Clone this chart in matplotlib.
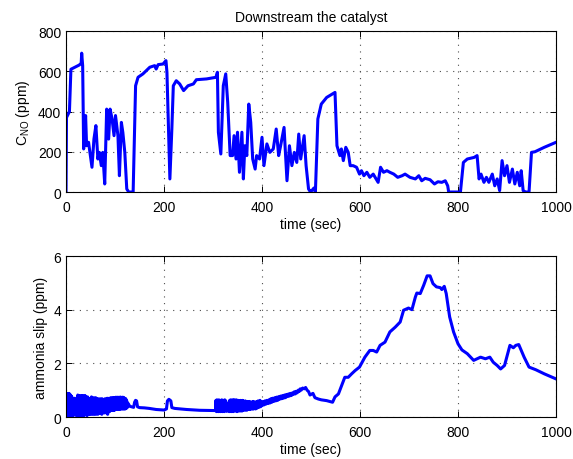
import numpy as np
import matplotlib.pyplot as plt

plt.rcParams['font.family'] = ['Liberation Sans', 'DejaVu Sans']
plt.rcParams['font.size'] = 10
plt.rcParams['mathtext.fontset'] = 'custom'
plt.rcParams['mathtext.rm'] = 'Liberation Sans'
plt.rcParams['mathtext.it'] = 'Liberation Sans'

# NO concentration downstream of the catalyst (ppm)
t_no = [0, 1, 4, 7, 10, 18, 27, 31, 32, 34, 36, 40, 42, 46, 53, 57, 61, 65, 68, 72,
        75, 79, 83, 87, 90, 94, 98, 101, 106, 109, 113, 116, 120, 124, 128, 137, 142,
        147, 157, 171, 181, 184, 188, 198, 204, 206, 212, 216, 219, 225, 232, 240,
        249, 260, 266, 287, 306, 309, 311, 316, 321, 326, 330, 335, 340, 343, 347,
        350, 354, 359, 362, 365, 369, 373, 377, 381, 386, 389, 395, 400, 404, 410,
        416, 423, 429, 434, 438, 445, 451, 456, 461, 466, 471, 475, 479, 486, 490,
        495, 499, 502, 506, 509, 514, 521, 532, 549, 553, 559, 562, 566, 571, 576,
        580, 586, 593, 599, 603, 608, 614, 620, 627, 633, 637, 642, 648, 655, 661,
        669, 677, 686, 692, 702, 713, 720, 726, 733, 743, 752, 759, 767, 774, 779,
        781, 805, 811, 819, 833, 839, 843, 847, 853, 858, 863, 870, 875, 880, 885,
        890, 895, 900, 905, 911, 916, 921, 926, 929, 933, 938, 945, 950, 957, 976,
        1000]
c_no = [0, 370, 385, 400, 610, 620, 631, 640, 690, 628, 214, 380, 230, 247, 123, 263,
        330, 164, 197, 131, 197, 40, 412, 263, 412, 363, 280, 380, 280, 81, 346, 296,
        197, 15, 0, 0, 528, 570, 587, 620, 628, 611, 633, 636, 653, 595, 65, 313, 528,
        553, 537, 504, 528, 537, 558, 562, 570, 595, 297, 189, 528, 587, 446, 181, 181,
        280, 164, 297, 98, 297, 65, 230, 181, 437, 346, 164, 114, 181, 164, 272, 131,
        239, 197, 214, 313, 181, 230, 321, 56, 230, 131, 197, 147, 288, 164, 280, 131,
        15, 0, 8, 20, 0, 363, 437, 470, 495, 230, 181, 214, 156, 222, 197, 131, 131,
        123, 89, 106, 81, 98, 73, 89, 65, 48, 123, 98, 106, 98, 89, 73, 81, 89, 73, 65,
        81, 56, 68, 61, 40, 51, 48, 56, 31, 0, 0, 147, 164, 172, 181, 65, 89, 48, 73,
        48, 89, 31, 65, 7, 156, 81, 131, 48, 114, 40, 98, 31, 106, 7, 0, 0, 197, 200,
        222, 247]

# ammonia slip (ppm)
t_nh3 = [0, 1, 2, 3, 4, 5, 6, 7, 8, 9, 10, 11, 12, 13, 14, 15, 16, 17, 18, 19, 20,
         21, 22, 23, 24, 25, 26, 27, 28, 29, 30, 31, 32, 33, 34, 35, 36, 37, 38, 39,
         40, 41, 42, 43, 44, 45, 46, 47, 48, 49, 50, 51, 52, 53, 54, 55, 56, 57, 58,
         59, 60, 61, 62, 63, 64, 65, 66, 67, 68, 69, 70, 71, 72, 73, 74, 75, 76, 77,
         78, 79, 80, 81, 82, 83, 84, 85, 86, 87, 88, 89, 90, 91, 92, 93, 94, 95, 96,
         97, 98, 99, 100, 101, 102, 103, 104, 105, 106, 107, 108, 109, 110, 111, 112,
         113, 114, 115, 116, 117, 118, 119, 120, 121, 122, 123, 124, 125, 127, 130,
         134, 138, 140, 142, 144, 146, 150, 160, 170, 184, 200, 205, 207, 210, 214,
         216, 222, 246, 273, 305,
         306, 307, 308, 309, 310, 311, 312, 313, 314, 315, 316, 317, 318, 319, 320,
         321, 322, 323, 324, 325, 326, 327, 328, 329, 330, 331, 332, 333, 334, 335,
         336, 337, 338, 339, 340, 341, 342, 343, 344, 345, 346, 347, 348, 349, 350,
         351, 352, 353, 354, 355, 356, 357, 358, 359, 360, 361, 362, 363, 364, 365,
         366, 367, 368, 369, 370, 371, 372, 373, 374, 375, 376, 377, 378, 379, 380,
         381, 382, 383, 384, 385, 386, 387, 388, 389, 390, 391, 392, 393, 394, 395,
         396, 397, 398, 400, 402, 404, 406, 408, 410, 412, 414, 416, 418, 420, 422,
         424, 426, 428, 430, 432, 434, 436, 438, 440, 442, 444, 446, 448, 450, 452,
         454, 456, 458, 460, 462, 464, 466, 468, 470, 472, 474, 476, 478, 480, 483,
         486, 489, 492, 495, 498, 501, 504, 508, 515, 521, 532, 544, 549, 556, 560,
         569, 576, 583, 590, 599, 610, 620, 627, 634, 641, 651, 661, 672, 682, 689,
         699, 706, 713, 716, 723, 730, 737, 743, 749, 756, 764, 767, 772, 776, 783,
         791, 800, 808, 819, 832, 846, 856, 865, 872, 880, 887, 895, 906, 913, 918,
         924, 935, 945, 959, 976, 1000]
slip = [0.85, 0.1, 0.88, 0.05, 0.85, 0.1, 0.88, 0.05, 0.85, 0.1, 0.8, 0.05, 0.75, 0.1,
        0.3, 0.05, 0.45, 0.1, 0.7, 0.15, 0.4, 0.05, 0.3, 0.1, 0.82, 0.05, 0.8, 0.1, 0.5,
        0.05, 0.8, 0.1, 0.78, 0.05, 0.8, 0.1, 0.6, 0.05, 0.8, 0.1, 0.78, 0.1, 0.3, 0.05,
        0.75, 0.1, 0.7, 0.1, 0.35, 0.1, 0.3, 0.12, 0.75, 0.1, 0.7, 0.12, 0.72, 0.1, 0.4,
        0.12, 0.72, 0.1, 0.7, 0.15, 0.35, 0.1, 0.68, 0.15, 0.6, 0.15, 0.68, 0.15, 0.66,
        0.1, 0.68, 0.15, 0.65, 0.2, 0.66, 0.15, 0.68, 0.2, 0.66, 0.15, 0.7, 0.1, 0.68,
        0.2, 0.7, 0.2, 0.7, 0.25, 0.72, 0.25, 0.7, 0.25, 0.72, 0.25, 0.72, 0.25, 0.72,
        0.28, 0.74, 0.28, 0.72, 0.28, 0.74, 0.28, 0.72, 0.28, 0.74, 0.3, 0.74, 0.3, 0.72,
        0.3, 0.74, 0.3, 0.72, 0.3, 0.7, 0.3, 0.68, 0.32, 0.6, 0.35, 0.5, 0.4, 0.38, 0.36,
        0.55, 0.62, 0.6, 0.38, 0.35, 0.34, 0.32, 0.28, 0.26, 0.3, 0.6, 0.66, 0.6, 0.35,
        0.32, 0.28, 0.25, 0.24,
        0.62, 0.2, 0.64, 0.22, 0.6, 0.2, 0.64, 0.25, 0.6, 0.2, 0.62, 0.22, 0.64, 0.2,
        0.6, 0.22, 0.62, 0.2, 0.64, 0.25, 0.6, 0.22, 0.5, 0.22, 0.4, 0.25, 0.45, 0.2,
        0.62, 0.22, 0.64, 0.2, 0.62, 0.22, 0.64, 0.2, 0.63, 0.22, 0.64, 0.25, 0.62, 0.22,
        0.64, 0.2, 0.6, 0.22, 0.62, 0.25, 0.6, 0.22, 0.62, 0.25, 0.6, 0.22, 0.62, 0.25,
        0.6, 0.28, 0.58, 0.25, 0.6, 0.28, 0.55, 0.25, 0.58, 0.28, 0.55, 0.3, 0.58, 0.28,
        0.55, 0.3, 0.56, 0.3, 0.55, 0.3, 0.58, 0.3, 0.55, 0.32, 0.56, 0.3, 0.55, 0.32,
        0.58, 0.35, 0.6, 0.35, 0.55, 0.4, 0.62, 0.38, 0.55, 0.42, 0.58, 0.45, 0.6, 0.48,
        0.62, 0.5, 0.64, 0.52, 0.68, 0.55, 0.7, 0.58, 0.72, 0.6, 0.74, 0.62, 0.76, 0.66,
        0.78, 0.68, 0.8, 0.7, 0.82, 0.72, 0.84, 0.76, 0.86, 0.78, 0.88, 0.8, 0.9, 0.84,
        0.94, 0.86, 0.96, 0.9, 1.0, 0.95, 1.05, 1.0, 1.08, 1.05, 1.1, 1.0, 0.95, 0.82,
        0.85, 0.88, 0.72, 0.67, 0.64, 0.61, 0.55, 0.75, 0.86, 1.05, 1.48, 1.48, 1.61,
        1.73, 1.86, 2.23, 2.48, 2.48, 2.42, 2.67, 2.79, 3.17, 3.35, 3.54, 3.98, 4.06,
        4.0, 4.47, 4.62, 4.6, 4.91, 5.26, 5.26, 4.97, 4.85, 4.82, 4.75, 4.87, 4.6, 3.73,
        3.17, 2.73, 2.5, 2.36, 2.11, 2.23, 2.17, 2.23, 2.04, 1.92, 1.79, 1.92, 2.67,
        2.58, 2.67, 2.7, 2.23, 1.86, 1.76, 1.61, 1.42]

x_ticks = [0, 200, 400, 600, 800, 1000]

fig = plt.figure(figsize=(5.73, 4.60), dpi=100)
ax1 = fig.add_axes([0.1152, 0.5804, 0.8551, 0.35])
ax2 = fig.add_axes([0.1152, 0.0913, 0.8551, 0.35])

ax1.plot(t_no, c_no, color='#0000ff', linewidth=2.2)
ax1.set_ylim(0, 800)
ax1.set_yticks([0, 200, 400, 600, 800])
ax1.set_ylabel('C$_{NO}$ (ppm)')
ax1.set_title('Downstream the catalyst', fontsize=10, pad=7)

ax2.plot(t_nh3, slip, color='#0000ff', linewidth=2.2)
ax2.set_ylim(0, 6)
ax2.set_yticks([0, 2, 4, 6])
ax2.set_ylabel('ammonia slip (ppm)')

for ax in (ax1, ax2):
    ax.set_xlim(0, 1000)
    ax.set_xticks(x_ticks)
    ax.set_xlabel('time (sec)', labelpad=2)
    # matlab style sparse dotted grid
    ax.grid(True, linestyle=(0, (1, 5)), color='0.3', linewidth=0.8)
    ax.tick_params(direction='in', top=True, right=True, length=4, width=0.7,
                   labelsize=10)
    ax.tick_params(axis='x', pad=6)
    for s in ax.spines.values():
        s.set_linewidth(0.8)

plt.savefig('out.png', dpi=100)
